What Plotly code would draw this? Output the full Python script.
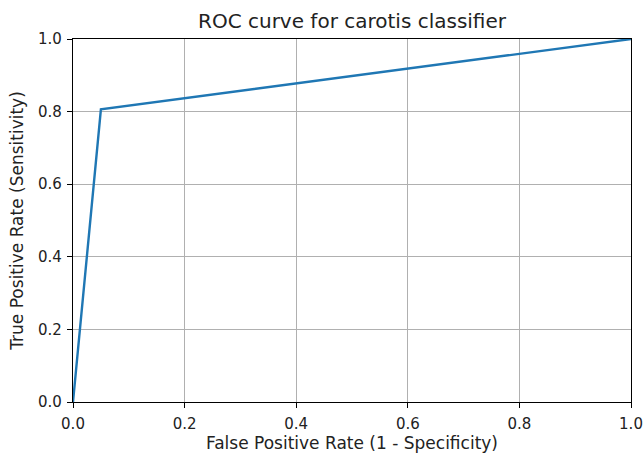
import plotly.graph_objects as go

fpr = [0.0, 0.05, 1.0]
tpr = [0.0, 0.806, 1.0]
tick_vals = [0.0, 0.2, 0.4, 0.6, 0.8, 1.0]
tick_text = ["0.0", "0.2", "0.4", "0.6", "0.8", "1.0"]

fig = go.Figure()
fig.add_trace(go.Scatter(x=fpr, y=tpr, mode="lines",
                         line=dict(color="#1f77b4", width=2.4), showlegend=False))

axis_common = dict(
    range=[0, 1], tickvals=tick_vals, ticktext=tick_text,
    showgrid=True, gridcolor="#b0b0b0", gridwidth=1,
    showline=True, linecolor="black", linewidth=1.3, mirror=True,
    ticks="outside", ticklen=5, tickcolor="black", tickwidth=1.2,
    zeroline=False, tickfont=dict(size=15, color="#222"), automargin=False,
)
fig.update_xaxes(**axis_common, ticklabelstandoff=3,
                 title=dict(text="False Positive Rate (1 - Specificity)",
                            font=dict(size=17, color="#222"), standoff=4))
fig.update_yaxes(**axis_common, ticklabelstandoff=2,
                 title=dict(text="True Positive Rate (Sensitivity)",
                            font=dict(size=17, color="#222"), standoff=10))

fig.update_layout(
    width=644, height=453,
    margin=dict(l=73, r=13, t=39, b=51),
    paper_bgcolor="white", plot_bgcolor="white",
    font=dict(family="DejaVu Sans", color="#222"),
    title=dict(text="ROC curve for carotis classifier", x=0.5, xanchor="center",
               xref="paper", y=1 - 21/453, yanchor="middle",
               font=dict(size=20, color="#222")),
)
fig.write_html("out.html", config={"displayModeBar": False},
               post_script="document.body.style.margin='0';document.body.style.overflow='hidden';")
